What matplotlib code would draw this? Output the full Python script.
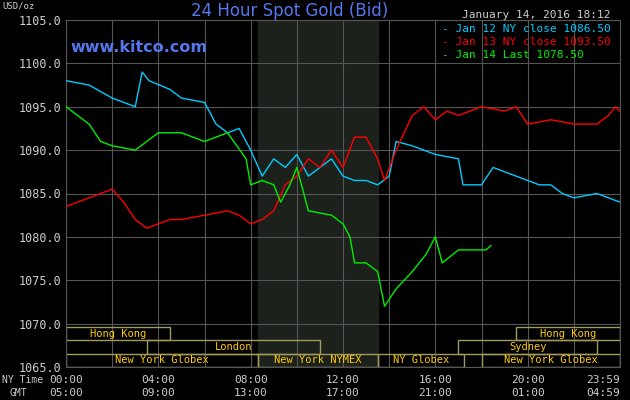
import matplotlib
matplotlib.use("Agg")
import matplotlib.pyplot as plt
from matplotlib.patches import Rectangle

# hours since 00:00 NY time, price
jan12_t = [0, 1, 2, 3, 3.3, 3.6, 4.5, 5, 6, 6.5, 7, 7.5, 8, 8.5, 9, 9.5, 10, 10.5, 11, 11.5, 12, 12.5, 13, 13.5,
           14, 14.3, 15, 16, 17, 17.2, 18, 18.5, 19.5, 20.5, 21, 21.5, 22, 23, 24]
jan12_v = [1098, 1097.5, 1096, 1095, 1099, 1098, 1097, 1096, 1095.5, 1093, 1092, 1092.5, 1090, 1087, 1089, 1088,
           1089.5, 1087, 1088, 1089, 1087, 1086.5, 1086.5, 1086, 1087, 1091, 1090.5, 1089.5, 1089, 1086, 1086,
           1088, 1087, 1086, 1086, 1085, 1084.5, 1085, 1084]
jan13_t = [0, 1.5, 2, 2.5, 3, 3.5, 4, 4.5, 5, 6, 7, 7.5, 8, 8.5, 9, 9.5, 10, 10.5, 11, 11.5, 12, 12.5, 13, 13.5,
           13.8, 14.3, 15, 15.5, 16, 16.5, 17, 18, 19, 19.5, 20, 21, 22, 23, 23.5, 23.8, 24]
jan13_v = [1083.5, 1085, 1085.5, 1084, 1082, 1081, 1081.5, 1082, 1082, 1082.5, 1083, 1082.5, 1081.5, 1082, 1083,
           1086, 1087, 1089, 1088, 1090, 1088, 1091.5, 1091.5, 1089, 1086.5, 1090, 1094, 1095, 1093.5, 1094.5,
           1094, 1095, 1094.5, 1095, 1093, 1093.5, 1093, 1093, 1094, 1095, 1094.5]
jan14_t = [0, 1, 1.5, 2, 3, 3.5, 4, 5, 6, 7, 7.8, 8, 8.5, 9, 9.3, 9.7, 10, 10.3, 10.5, 11.5, 12, 12.3, 12.5, 13,
           13.5, 13.8, 14.3, 15, 15.6, 16, 16.3, 17, 18.2, 18.4]
jan14_v = [1095, 1093, 1091, 1090.5, 1090, 1091, 1092, 1092, 1091, 1092, 1089, 1086, 1086.5, 1086, 1084, 1086,
           1088, 1085, 1083, 1082.5, 1081.5, 1080, 1077, 1077, 1076, 1072, 1074, 1076, 1078, 1080, 1077, 1078.5,
           1078.5, 1079]

# session bars: (name, start, end, row)
sessions = [("Hong Kong", 0, 4.5, 2), ("Hong Kong", 19.5, 24, 2), ("London", 3.5, 11, 1), ("Sydney", 17, 23, 1),
            ("New York Globex", 0, 8.33, 0), ("New York NYMEX", 8.33, 13.5, 0), ("NY Globex", 13.5, 17.25, 0),
            ("New York Globex", 18, 24, 0)]
ny_labels = ["00:00", "04:00", "08:00", "12:00", "16:00", "20:00", "23:59"]
gmt_labels = ["05:00", "09:00", "13:00", "17:00", "21:00", "01:00", "04:59"]
y_ticks = [1065, 1070, 1075, 1080, 1085, 1090, 1095, 1100, 1105]

mono = "DejaVu Sans Mono"
fig = plt.figure(figsize=(6.3, 4), dpi=100, facecolor="black")
ax = fig.add_axes([66 / 630, 33 / 400, 554 / 630, 347 / 400], facecolor="black")
ax.set_xlim(0, 24)
ax.set_ylim(1065, 1105)

ax.axvspan(8.33, 13.5, color="#1c211c", zorder=0)
for h in range(0, 25, 2):
    ax.axvline(h, color="#555555", lw=0.8, zorder=1)
for y in y_ticks:
    ax.axhline(y, color="#555555", lw=0.8, zorder=1)

row_h = 1.53
for name, s, e, r in sessions:
    ax.add_patch(Rectangle((s, 1065 + r * row_h), e - s, row_h, fill=False, ec="#a09a60", lw=1, zorder=2))
    ax.text((s + e) / 2, 1065 + (r + 0.5) * row_h, name, color="#ffcc00", ha="center", va="center",
            fontsize=7.5, family=mono, zorder=3)

ax.plot(jan12_t, jan12_v, color="#00ccff", lw=1, zorder=4)
ax.plot(jan13_t, jan13_v, color="#ff0000", lw=1, zorder=4)
ax.plot(jan14_t, jan14_v, color="#00ee00", lw=1, zorder=4)

ax.set_xticks([])
ax.set_yticks(y_ticks)
ax.set_yticklabels([f"{v:.1f}" for v in y_ticks], color="#cccccc", family=mono, fontsize=8.5)
ax.tick_params(axis="y", length=0, pad=3)
for sp in ax.spines.values():
    sp.set_color("#555555")

xs = [0, 4, 8, 12, 16, 20, 24]
for i, (h, a, b) in enumerate(zip(xs, ny_labels, gmt_labels)):
    ha = "right" if i == len(xs) - 1 else "center"
    ax.text(h, 1063.5, a, color="#cccccc", ha=ha, va="center", fontsize=8, family=mono, clip_on=False)
    ax.text(h, 1062.0, b, color="#cccccc", ha=ha, va="center", fontsize=8, family=mono, clip_on=False)
fig.text(2 / 630, 1 - 380 / 400, "NY Time", color="#cccccc", fontsize=7, family=mono, va="center")
fig.text(10 / 630, 1 - 393 / 400, "GMT", color="#cccccc", fontsize=7, family=mono, va="center")
fig.text(2 / 630, 1 - 6 / 400, "USD/oz", color="#cccccc", fontsize=6.5, family=mono, va="center")

fig.text(290 / 630, 1 - 11 / 400, "24 Hour Spot Gold (Bid)", color="#5577ee", fontsize=12, ha="center",
         va="center", family="DejaVu Sans")
fig.text(70 / 630, 1 - 48 / 400, "www.kitco.com", color="#5577ee", fontsize=11.5, weight="bold", va="center")
fig.text(610 / 630, 1 - 15 / 400, "January 14, 2016 18:12", color="#cccccc", fontsize=8, ha="right",
         va="center", family=mono)
leg = [("Jan 12 NY close 1086.50", "#00ccff"), ("Jan 13 NY close 1093.50", "#ff0000"),
       ("Jan 14 Last 1078.50", "#00ee00")]
for i, (t, c) in enumerate(leg):
    fig.text(442 / 630, 1 - (29 + i * 13) / 400, "- " + t, color=c, fontsize=8, va="center", family=mono)

fig.savefig("out.png", dpi=100, facecolor="black")
